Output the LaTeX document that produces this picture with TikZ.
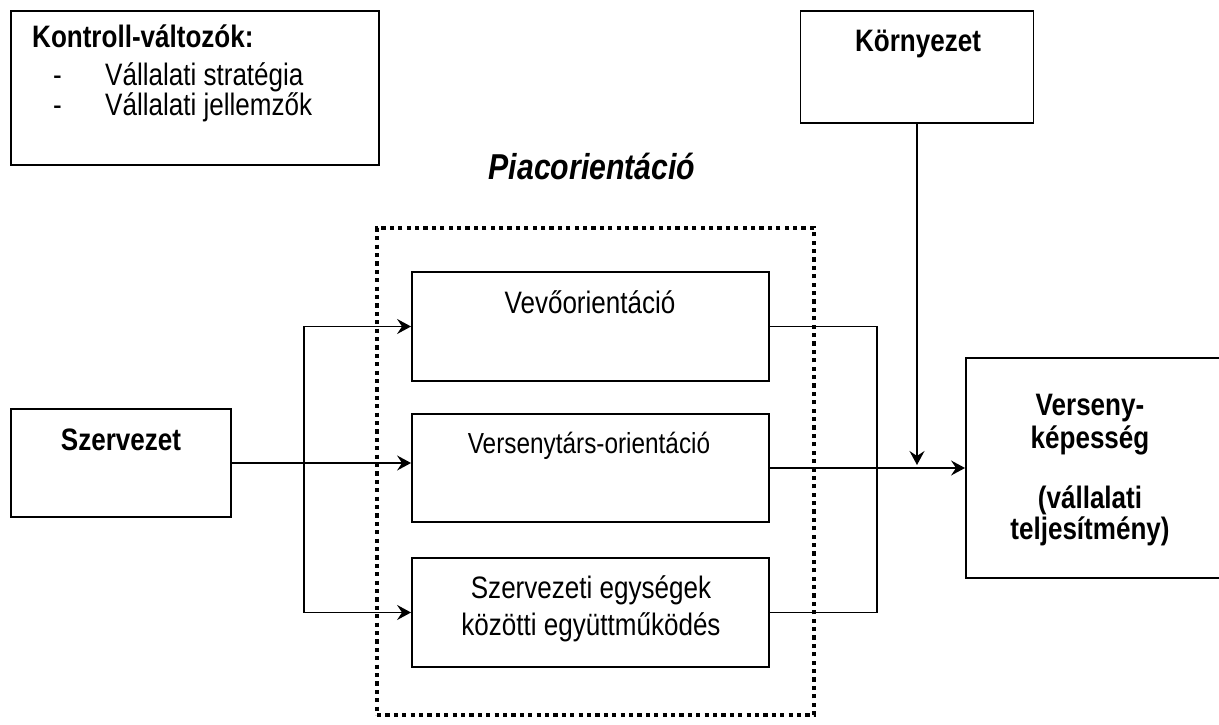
\documentclass[tikz,border=0pt]{standalone}
\usepackage{fontspec}
\setmainfont[FakeStretch=0.84]{Liberation Sans}
\usetikzlibrary{arrows.meta}
\begin{document}
\begin{tikzpicture}[x=1pt,y=-1pt,
  box/.style={draw, line width=1.9pt, inner sep=0pt},
  dotbox/.style={draw, line width=4.2pt, dash pattern=on 4.2pt off 4.2pt, inner sep=0pt},
  conn/.style={line width=1.7pt},
  arr/.style={conn, -{Stealth[length=14pt,width=15pt,inset=5pt]}},
  txt/.style={anchor=base, inner sep=0pt, font=\fontsize{31}{35}\selectfont},
  btxt/.style={anchor=base, inner sep=0pt, font=\fontsize{31}{35}\selectfont\bfseries},
]
\useasboundingbox (0,0) rectangle (1219,725);
\clip (0,0) rectangle (1219,725);

% boxes
\node[box, minimum width=368pt, minimum height=154pt] (kv) at (195,88) {};
\node[box, minimum width=233pt, minimum height=112pt] (ko) at (917,67) {};
\node[box, minimum width=220pt, minimum height=108pt] (sz) at (121,463) {};
\node[box, minimum width=357pt, minimum height=109pt] (ve) at (590.5,326.5) {};
\node[box, minimum width=357pt, minimum height=108pt] (vt) at (590.5,468) {};
\node[box, minimum width=357pt, minimum height=109pt] (se) at (590.5,612.5) {};
\node[box, minimum width=259pt, minimum height=220pt] (vk) at (1095.5,468) {};
\node[dotbox, minimum width=437pt, minimum height=487pt] (po) at (595.5,471.5) {};

% texts
\node[btxt, anchor=base west] (kvt) at (32,48) {Kontroll-változók:};
\node[txt, anchor=base west] (kd1) at (53,85) {-};
\node[txt, anchor=base west] (kl1) at (105,85) {Vállalati stratégia};
\node[txt, anchor=base west] (kd2) at (53,115) {-};
\node[txt, anchor=base west] (kl2) at (105,115) {Vállalati jellemzők};
\node[btxt] (kot) at (918,52) {Környezet};
\node[anchor=base, inner sep=0pt, font=\fontsize{36}{40}\selectfont\bfseries\itshape] (pot) at (592,179) {Piacorientáció};
\node[txt] (vet) at (590,313) {Vevőorientáció};
\node[anchor=base, inner sep=0pt, font=\fontsize{29}{33}\selectfont] (vtt) at (589,453) {Versenytárs-orientáció};
\node[txt] (set1) at (591,598) {Szervezeti egységek};
\node[txt] (set2) at (591,635) {közötti együttműködés};
\node[btxt] (szt) at (121,450) {Szervezet};
\node[btxt] (vk1) at (1090,415) {Verseny-};
\node[btxt] (vk2) at (1090,448) {képesség};
\node[btxt] (vk3) at (1090,508) {(vállalati};
\node[btxt] (vk4) at (1090,539) {teljesítmény)};

% connectors
\coordinate (br) at (304,463);
\coordinate (col) at (877,468);
\coordinate (kt) at (917,465);
\draw[arr] (sz.east) -- (sz.east -| vt.west);
\draw[arr] (br) |- (ve.west);
\draw[arr] (br) |- (se.west);
\draw[conn] (ve.east) -| (col) |- (se.east);
\draw[arr] (vt.east) -- (vk.west);
\draw[arr] (ko.south) -- (kt);
\end{tikzpicture}
\end{document}
